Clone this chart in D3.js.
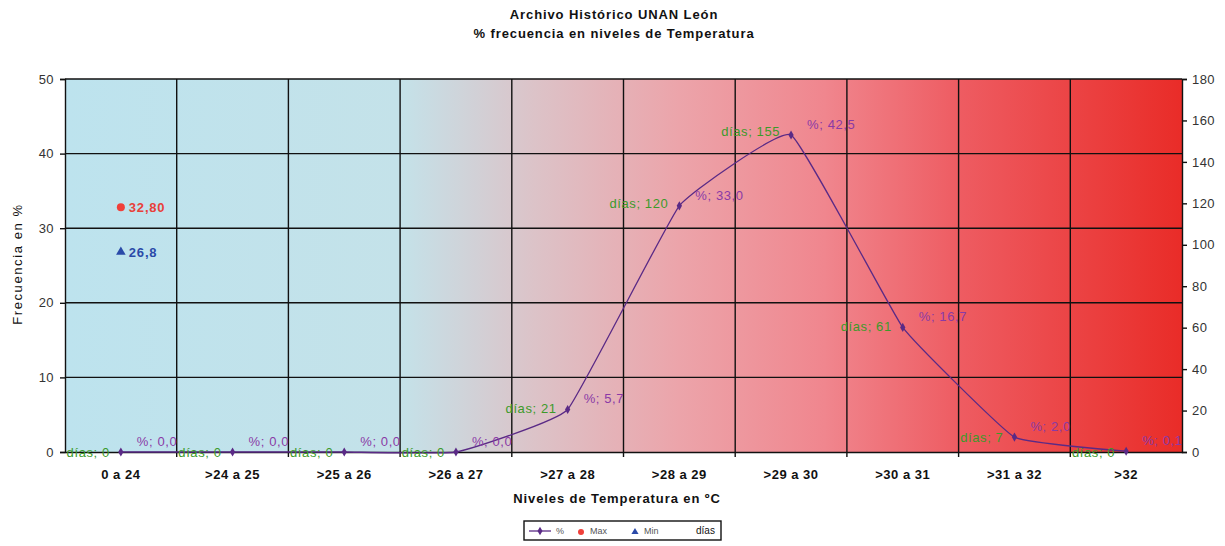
<!DOCTYPE html>
<html><head><meta charset="utf-8">
<script src="https://cdn.jsdelivr.net/npm/d3@7/dist/d3.min.js"></script>
<style>body{margin:0;background:#fff;font-family:"Liberation Sans",Arial,sans-serif;}</style>
</head><body>
<svg id="c" width="1225" height="546"></svg>
<script>
const categories = ["0 a 24", ">24 a 25", ">25 a 26", ">26 a 27", ">27 a 28", ">28 a 29", ">29 a 30", ">30 a 31", ">31 a 32", ">32"];
const pct = [0.0, 0.0, 0.0, 0.0, 5.7, 33.0, 42.5, 16.7, 2.0, 0.1];
const dias = [0, 0, 0, 0, 21, 120, 155, 61, 7, 0];
const maxVal = [32.80];
const minVal = [26.8];
const leftTicks = [0, 10, 20, 30, 40, 50];
const rightTicks = [0, 20, 40, 60, 80, 100, 120, 140, 160, 180];
const fmt = v => v.toFixed(1).replace(".", ",");

const FF = "Liberation Sans, Arial, sans-serif";
const svg = d3.select("#c").attr("font-family", FF);
const L = 65, R = 1182, T = 79, B = 452;
const x = d3.scaleBand().domain(categories).range([L, R]).padding(0);
const y = d3.scaleLinear().domain([0, 50]).range([B, T]);
const y2 = d3.scaleLinear().domain([0, 180]).range([B, T]);
const cx = c => x(c) + x.bandwidth() / 2;

// gradient background
const defs = svg.append("defs");
const g = defs.append("linearGradient").attr("id", "bg").attr("x1", "0%").attr("x2", "100%");
[[0, "#bde3ee"], [0.3, "#c4e2e9"], [0.42, "#dcc3c8"], [0.55, "#eca4aa"], [0.68, "#f0868e"], [0.8, "#ee5c62"], [1, "#e92c28"]]
  .forEach(s => g.append("stop").attr("offset", s[0]).attr("stop-color", s[1]));
svg.append("rect").attr("x", L).attr("y", T).attr("width", R - L).attr("height", B - T).attr("fill", "url(#bg)");

// grid
svg.append("g").selectAll("line").data(leftTicks.filter(d => d > 0)).join("line")
  .attr("x1", L).attr("x2", R).attr("y1", d => y(d)).attr("y2", d => y(d))
  .attr("stroke", "#111").attr("stroke-width", 1.4);
svg.append("g").selectAll("line").data(categories.slice(1)).join("line")
  .attr("x1", d => x(d)).attr("x2", d => x(d)).attr("y1", T).attr("y2", B + 5)
  .attr("stroke", "#111").attr("stroke-width", 1.4);

// axes
const axL = svg.append("g").attr("transform", `translate(${L},0)`)
  .call(d3.axisLeft(y).tickValues(leftTicks).tickSize(5).tickPadding(6));
const axR = svg.append("g").attr("transform", `translate(${R},0)`)
  .call(d3.axisRight(y2).tickValues(rightTicks).tickSize(5).tickPadding(5));
const axB = svg.append("g").attr("transform", `translate(0,${B})`)
  .call(d3.axisBottom(x).tickSize(0).tickPadding(18));
[axL, axR].forEach(a => {
  a.selectAll("path,line").attr("stroke", "#111").attr("stroke-width", 1.4);
  a.selectAll("text").attr("font-size", 13).attr("fill", "#333").attr("font-family", FF).attr("letter-spacing", 0.4);
});
axB.select("path").attr("stroke", "#111").attr("stroke-width", 1.4);
axB.selectAll("text").attr("font-size", 13).attr("font-weight", "bold").attr("fill", "#111").attr("font-family", FF).attr("letter-spacing", 0.5);

// line
const line = d3.line().x((d, i) => cx(categories[i])).y(d => y(d)).curve(d3.curveCardinal.tension(0.7));
svg.append("path").datum(pct).attr("d", line).attr("fill", "none").attr("stroke", "#5a2a86").attr("stroke-width", 1.3);
svg.append("g").selectAll("path").data(pct).join("path")
  .attr("d", d3.symbol().type(d3.symbolDiamond).size(24))
  .attr("transform", (d, i) => `translate(${cx(categories[i])},${y(d)})`)
  .attr("fill", "#5a2a86");

// labels
svg.append("g").selectAll("text").data(pct).join("text")
  .attr("x", (d, i) => cx(categories[i]) + 16).attr("y", d => y(d) - 6)
  .attr("font-size", 13).attr("fill", "#8a3aa6").attr("letter-spacing", 0.6)
  .text(d => "%; " + fmt(d));
svg.append("g").selectAll("text").data(dias).join("text")
  .attr("x", (d, i) => cx(categories[i]) - 11).attr("y", d => y2(d) + 5)
  .attr("text-anchor", "end").attr("font-size", 13).attr("fill", "#3c9a2a").attr("letter-spacing", 0.6)
  .text(d => "días; " + d);

// max / min
svg.append("g").selectAll("circle").data(maxVal).join("circle")
  .attr("cx", cx(categories[0])).attr("cy", d => y(d)).attr("r", 4).attr("fill", "#f0403a");
svg.append("g").selectAll("text").data(maxVal).join("text")
  .attr("x", cx(categories[0]) + 8).attr("y", d => y(d) + 5)
  .attr("font-size", 13).attr("font-weight", "bold").attr("fill", "#e8403a").attr("letter-spacing", 0.8)
  .text(d => d.toFixed(2).replace(".", ","));
svg.append("g").selectAll("path").data(minVal).join("path")
  .attr("d", d3.symbol().type(d3.symbolTriangle).size(40))
  .attr("transform", d => `translate(${cx(categories[0])},${y(d)})`).attr("fill", "#2a4aa8");
svg.append("g").selectAll("text").data(minVal).join("text")
  .attr("x", cx(categories[0]) + 8).attr("y", d => y(d) + 5)
  .attr("font-size", 13).attr("font-weight", "bold").attr("fill", "#2a4aa8").attr("letter-spacing", 0.8)
  .text(d => fmt(d));

// titles
svg.append("text").attr("x", 614).attr("y", 19).attr("text-anchor", "middle")
  .attr("font-size", 13).attr("font-weight", "bold").attr("fill", "#111").attr("letter-spacing", 0.9).text("Archivo Histórico UNAN León");
svg.append("text").attr("x", 614).attr("y", 38).attr("text-anchor", "middle")
  .attr("font-size", 13).attr("font-weight", "bold").attr("fill", "#111").attr("letter-spacing", 0.9).text("% frecuencia en niveles de Temperatura");
svg.append("text").attr("x", 617).attr("y", 503).attr("text-anchor", "middle")
  .attr("font-size", 13).attr("font-weight", "bold").attr("fill", "#111").attr("letter-spacing", 0.9).text("Niveles de Temperatura en ºC");
svg.append("text").attr("transform", "translate(22,264) rotate(-90)").attr("text-anchor", "middle")
  .attr("font-size", 13).attr("fill", "#111").attr("letter-spacing", 1.6).text("Frecuencia en %");

// legend
const lg = svg.append("g").attr("transform", "translate(524,521)");
lg.append("rect").attr("width", 197).attr("height", 19).attr("fill", "#fff").attr("stroke", "#111").attr("stroke-width", 1.4);
lg.append("line").attr("x1", 5).attr("x2", 27).attr("y1", 10).attr("y2", 10).attr("stroke", "#5a2a86").attr("stroke-width", 1.3);
lg.append("path").attr("d", d3.symbol().type(d3.symbolDiamond).size(22)).attr("transform", "translate(16,10)").attr("fill", "#5a2a86");
lg.append("text").attr("x", 32).attr("y", 13).attr("font-size", 9).attr("fill", "#555").text("%");
lg.append("circle").attr("cx", 57).attr("cy", 11).attr("r", 3).attr("fill", "#f0403a");
lg.append("text").attr("x", 66).attr("y", 13).attr("font-size", 9).attr("fill", "#555").text("Max");
lg.append("path").attr("d", d3.symbol().type(d3.symbolTriangle).size(22)).attr("transform", "translate(111,11)").attr("fill", "#2a4aa8");
lg.append("text").attr("x", 120).attr("y", 13).attr("font-size", 9).attr("fill", "#555").text("Min");
lg.append("text").attr("x", 172).attr("y", 13).attr("font-size", 10).attr("fill", "#111").text("días");
</script>
</body></html>
